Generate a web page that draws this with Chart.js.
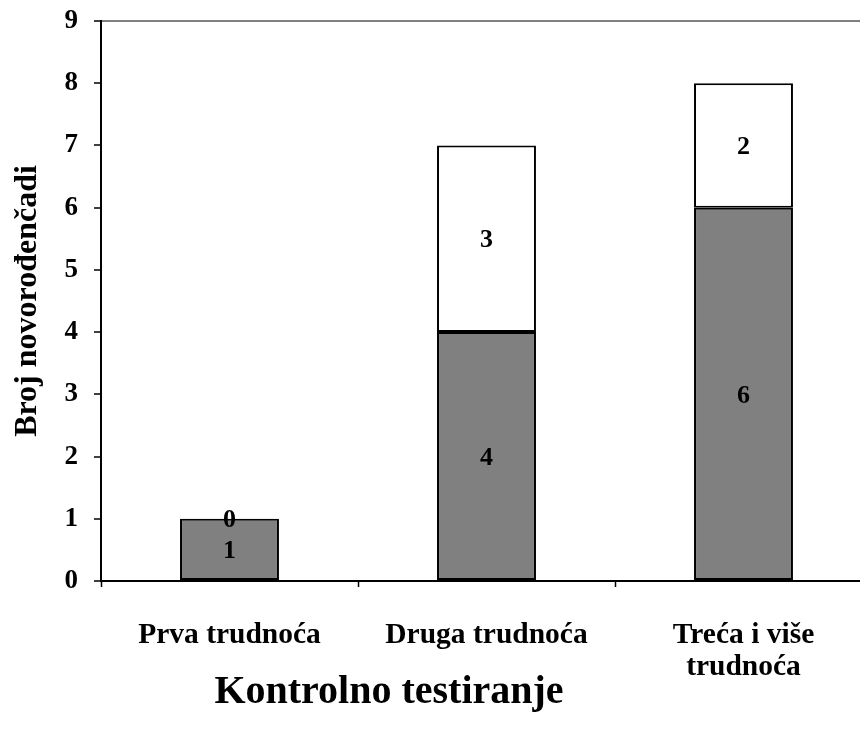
<!DOCTYPE html>
<html>
<head>
<meta charset="utf-8">
<script src="https://cdn.jsdelivr.net/npm/chart.js@4/dist/chart.umd.min.js"></script>
<style>
    html, body { margin: 0; padding: 0; overflow: hidden; background: #fff; }
</style>
</head>
<body>
<canvas id="myChart" width="880" height="729"></canvas>
<script>
// chart data
const categories = ["Prva trudnoća", "Druga trudnoća", ["Treća i više", "trudnoća"]];
const lowerValues = [1, 4, 6]; // grey part
const upperValues = [0, 3, 2]; // white part
const yTicks = [0, 1, 2, 3, 4, 5, 6, 7, 8, 9];

const serif = "'Liberation Serif', 'Times New Roman', serif";

// value labels in the middle of each segment
const segmentLabels = {
    id: "segmentLabels",
    afterDatasetsDraw(chart) {
        const ctx = chart.ctx;
        ctx.save();
        ctx.font = "bold 26px " + serif;
        ctx.fillStyle = "#000";
        ctx.textAlign = "center";
        ctx.textBaseline = "middle";
        chart.data.datasets.forEach((ds, i) => {
            chart.getDatasetMeta(i).data.forEach((bar, j) => {
                ctx.fillText(ds.data[j], bar.x, (bar.y + bar.base) / 2 + 2);
            });
        });
        ctx.restore();
    },
};

// x axis title, drawn by hand (it is not centred on the plot)
const xTitle = {
    id: "xTitle",
    afterDraw(chart) {
        const ctx = chart.ctx;
        ctx.save();
        ctx.font = "bold 40px " + serif;
        ctx.fillStyle = "#000";
        ctx.textAlign = "center";
        ctx.textBaseline = "middle";
        ctx.fillText("Kontrolno testiranje", 389, 693);
        ctx.restore();
    },
};

const ctx = document.getElementById("myChart").getContext("2d");
const chart = new Chart(ctx, {
    type: "bar",
    data: {
        labels: categories,
        datasets: [
            {
                data: lowerValues,
                backgroundColor: "#808080",
                borderColor: "#000",
                borderWidth: 2,
                borderSkipped: false,
                categoryPercentage: 1,
                barPercentage: 0.385,
            },
            {
                data: upperValues,
                backgroundColor: "#fff",
                borderColor: "#000",
                borderWidth: 2,
                borderSkipped: false,
                categoryPercentage: 1,
                barPercentage: 0.385,
            },
        ],
    },
    options: {
        responsive: false,
        animation: false,
        devicePixelRatio: 1,
        layout: { padding: { top: 21, right: 8, left: 0, bottom: 0 } },
        plugins: {
            legend: { display: false },
            tooltip: { enabled: false },
        },
        scales: {
            x: {
                stacked: true,
                afterFit: (scale) => { scale.height = 148; },
                grid: {
                    offset: true,
                    drawOnChartArea: false,
                    tickLength: 6,
                    tickColor: "#000",
                    tickWidth: 1.5,
                },
                border: { color: "#000", width: 2 },
                ticks: {
                    color: "#000",
                    padding: 32,
                    maxRotation: 0,
                    font: { family: serif, size: 29.5, weight: "bold", lineHeight: 1.1 },
                },
            },
            y: {
                stacked: true,
                min: 0,
                max: 9,
                afterFit: (scale) => {
                    scale.width = 101;
                    scale.paddingTop = 0;
                    scale.paddingBottom = 0;
                },
                afterBuildTicks: (scale) => { scale.ticks = yTicks.map((v) => ({ value: v })); },
                grid: {
                    color: (c) => (c.tick && c.tick.value === 9 ? "#808080" : "transparent"),
                    lineWidth: 2,
                    tickLength: 7,
                    tickColor: "#000",
                    tickWidth: 1.5,
                },
                border: { color: "#000", width: 2 },
                ticks: {
                    color: "#000",
                    padding: 16,
                    font: { family: serif, size: 27, weight: "bold" },
                },
                title: {
                    display: true,
                    text: "Broj novorođenčadi",
                    color: "#000",
                    padding: { top: 9, bottom: 0 },
                    font: { family: serif, size: 32, weight: "bold" },
                },
            },
        },
    },
    plugins: [segmentLabels, xTitle],
});
</script>
</body>
</html>
